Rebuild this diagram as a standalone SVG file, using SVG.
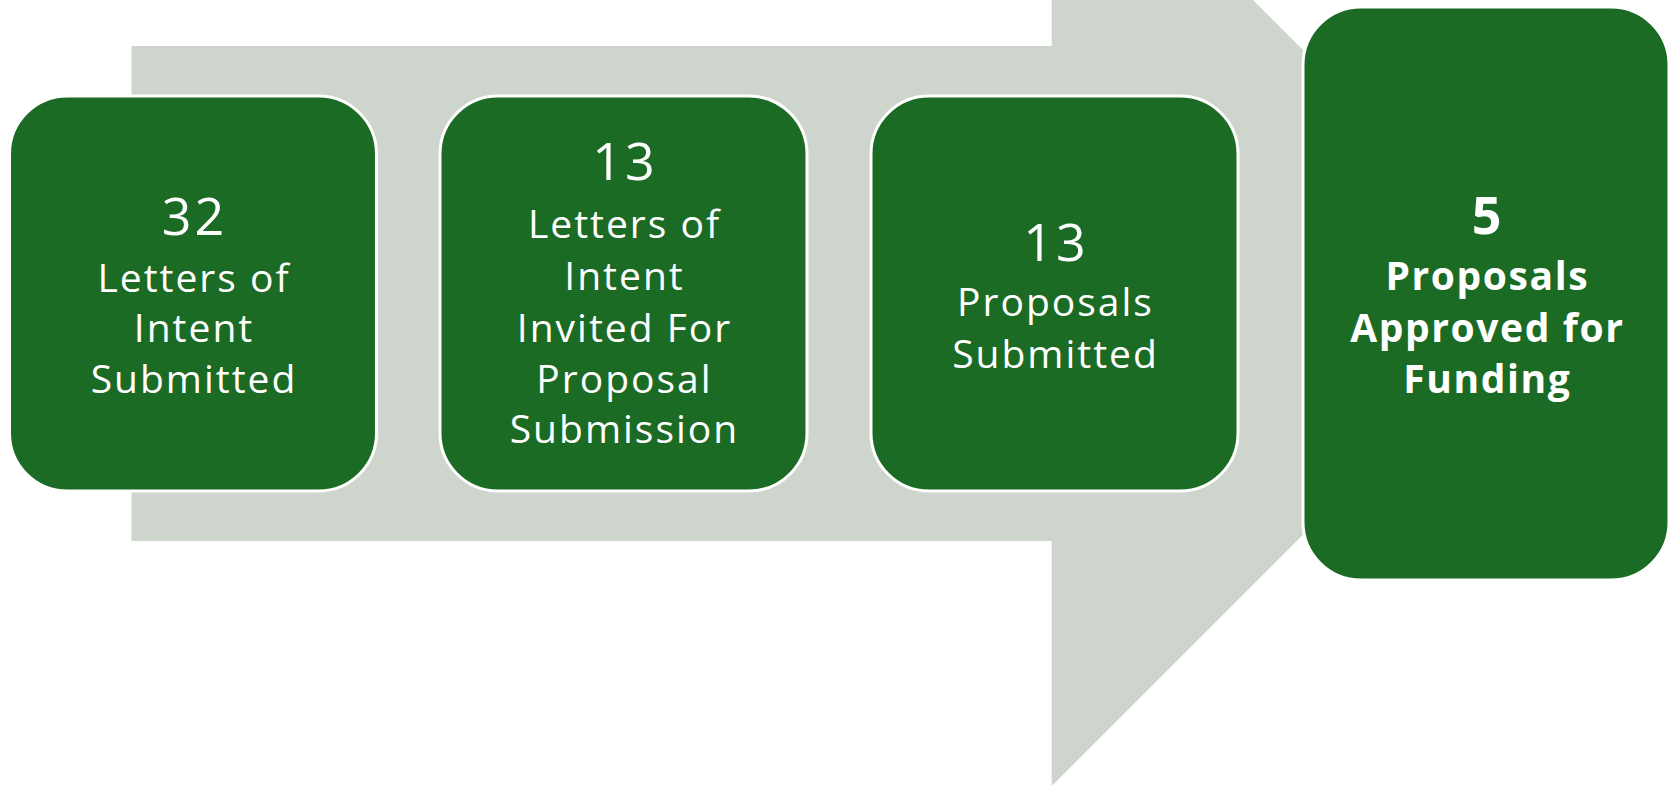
<svg xmlns="http://www.w3.org/2000/svg" width="1677" height="786" viewBox="0 0 1677 786">
  <style>
    .box { fill: #1B6B25; stroke: #FFFFFF; stroke-width: 3; }
    .t { fill: #FFFFFF; font-family: "Open Sans", "Liberation Sans", sans-serif; font-size: 39px; text-anchor: middle; letter-spacing: 2px; }
    .n { font-size: 52px; letter-spacing: 3px; }
    .b { font-weight: bold; letter-spacing: 1.6px; }
  </style>
  <rect x="0" y="0" width="1677" height="786" fill="#FFFFFF"/>
  <g id="connectors">
    <polygon points="131.5,46 1051.7,46 1051.7,-201.3 1545.3,292.3 1051.7,786 1051.7,541 131.5,541" fill="#CDD5CD"/>
  </g>
  <g id="node1">
    <rect class="box" x="9.5" y="96" width="367" height="395" rx="58" ry="58"/>
    <text class="t n" x="194.5" y="235">32</text>
    <text class="t" x="194" y="292">Letters of</text>
    <text class="t" x="194" y="342">Intent</text>
    <text class="t" x="194" y="393">Submitted</text>
  </g>
  <g id="node2">
    <rect class="box" x="440" y="96" width="367" height="395" rx="58" ry="58"/>
    <text class="t n" x="625" y="180">13</text>
    <text class="t" x="624.5" y="238">Letters of</text>
    <text class="t" x="624.5" y="290">Intent</text>
    <text class="t" x="624.5" y="341.5">Invited For</text>
    <text class="t" x="624.5" y="393">Proposal</text>
    <text class="t" x="624.5" y="443">Submission</text>
  </g>
  <g id="node3">
    <rect class="box" x="871" y="96" width="367" height="395" rx="58" ry="58"/>
    <text class="t n" x="1056" y="261">13</text>
    <text class="t" x="1055.5" y="316">Proposals</text>
    <text class="t" x="1055.5" y="367.5">Submitted</text>
  </g>
  <g id="node4">
    <rect class="box" x="1303" y="7" width="366" height="573" rx="58" ry="58"/>
    <text class="t n b" x="1487.5" y="234">5</text>
    <text class="t b" x="1487.3" y="290">Proposals</text>
    <text class="t b" x="1487.3" y="341.5">Approved for</text>
    <text class="t b" x="1487.3" y="392.5">Funding</text>
  </g>
</svg>
